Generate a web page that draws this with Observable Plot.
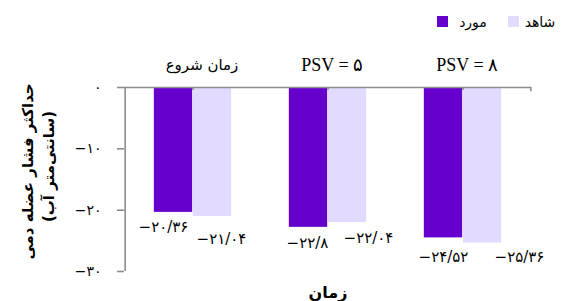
<!DOCTYPE html>
<html>
<head>
<meta charset="utf-8">
<script src="https://cdn.jsdelivr.net/npm/d3@7"></script>
<script src="https://cdn.jsdelivr.net/npm/@observablehq/plot@0.6"></script>
<style>
  html, body { margin: 0; padding: 0; background: #fff; }
  #chart svg { display: block; }
</style>
</head>
<body>
<div id="chart"></div>
<script>
// ---- data ----
const categories = ["زمان شروع", "PSV = ۵", "PSV = ۸"];
const seriesNames = ["مورد", "شاهد"];
const caseValues = [-20.36, -22.8, -24.52];
const controlValues = [-21.04, -22.04, -25.36];
const yTicks = [0, -10, -20, -30];
const yTitle = ["حداکثر فشار عضله دمی", "\u200F(سانتی‌متر آب)\u200F"];
const xTitle = "زمان";

// ---- style ----
const colors = ["#6600cc", "#e2dbff"];
const axisColor = "#8c8c8c";
const persianFont = "'DejaVu Sans', sans-serif";

const faDigits = "۰۱۲۳۴۵۶۷۸۹";
function toFa(v) {
  return String(v).replace(/[0-9]/g, d => faDigits[+d]).replace(".", "/").replace("-", "\u2212");
}

const rows = [];
categories.forEach((c, i) => {
  rows.push({cat: c, series: seriesNames[0], value: caseValues[i], idx: i});
  rows.push({cat: c, series: seriesNames[1], value: controlValues[i], idx: i});
});

const band = (562 - 124 - 31) / categories.length;
const half = band / 2;
const barW = 39;

// label offsets (style)
const catDx = [9, 4, 4];
const caseLabelOff = [[-10, 15], [-1, 16], [0, 19]];
const controlLabelOff = [[9, 23], [21, 16], [37, 14]];

const marks = [
  Plot.barY(rows.filter(d => d.series === seriesNames[0]), {
    x: "cat", y: "value", fill: colors[0],
    insetLeft: half - barW, insetRight: half
  }),
  Plot.barY(rows.filter(d => d.series === seriesNames[1]), {
    x: "cat", y: "value", fill: colors[1],
    insetLeft: half, insetRight: half - barW
  }),
  Plot.ruleY([0], {stroke: axisColor, strokeWidth: 1.6}),
  Plot.ruleX([categories[0]], {x: d => d, dx: -half, y1: 0, y2: -30, stroke: axisColor, strokeWidth: 1.6}),
  Plot.ruleX([categories[categories.length - 1]], {x: d => d, dx: half, y1: 0, y2: -0.7, stroke: axisColor, strokeWidth: 1.6}),
  Plot.ruleX(categories, {x: d => d, y1: 0, y2: -0.5, stroke: axisColor, strokeWidth: 1.6}),
  Plot.axisY({
    ticks: yTicks, tickSize: 7, tickPadding: 16, tickFormat: toFa, label: null,
    stroke: axisColor, strokeWidth: 1.6, fontSize: 14, fill: "#000"
  }),
  Plot.text(yTitle.slice(0, 1), {frameAnchor: "left", rotate: -90, dx: -96, dy: -8,
    textAnchor: "middle", lineAnchor: "middle",
    fontWeight: "bold", fontSize: 15, fill: "#000"}),
  Plot.text(yTitle.slice(1, 2), {frameAnchor: "left", rotate: -90, dx: -75, dy: -13,
    textAnchor: "middle", lineAnchor: "middle",
    fontWeight: "bold", fontSize: 15, fill: "#000"}),
  Plot.text([xTitle], {frameAnchor: "bottom", dy: 21, textAnchor: "middle", lineAnchor: "middle",
    fontWeight: "bold", fontSize: 16, fill: "#000"})
];

categories.forEach((c, i) => {
  marks.push(Plot.text([c], {
    x: d => d, frameAnchor: "top", dy: -22, dx: catDx[i], lineAnchor: "middle",
    fontSize: i === 0 ? 15 : 18,
    fontFamily: i === 0 ? persianFont : "'Liberation Serif', 'DejaVu Sans', serif",
    fill: "#000"
  }));
});

rows.forEach(r => {
  const off = r.series === seriesNames[0] ? caseLabelOff[r.idx] : controlLabelOff[r.idx];
  const barCenter = r.series === seriesNames[0] ? -barW / 2 : barW / 2;
  marks.push(Plot.text([r], {
    x: "cat", y: "value", text: d => toFa(d.value),
    dx: barCenter + off[0], dy: off[1], lineAnchor: "middle",
    fontSize: 15, fill: "#000"
  }));
});

const chart = Plot.plot({
  width: 562,
  height: 301,
  marginTop: 87,
  marginBottom: 30,
  marginLeft: 124,
  marginRight: 31,
  x: {domain: categories, padding: 0, axis: null},
  y: {domain: [-30, 0], axis: null},
  style: {fontFamily: persianFont, background: "#fff", color: "#000", overflow: "visible"},
  marks
});

// legend (drawn inside the SVG)
const svg = d3.select(chart);
const legendItems = [
  {name: seriesNames[0], color: colors[0], sx: 437, tx: 473},
  {name: seriesNames[1], color: colors[1], sx: 508, tx: 540}
];
const lg = svg.append("g").attr("font-family", persianFont).attr("font-size", 14);
legendItems.forEach(it => {
  lg.append("rect").attr("x", it.sx).attr("y", 16).attr("width", 11).attr("height", 11).attr("fill", it.color);
  lg.append("text").attr("x", it.tx).attr("y", 22).attr("dy", "0.35em")
    .attr("text-anchor", "middle").attr("fill", "#000").text(it.name);
});

document.getElementById("chart").appendChild(chart);
</script>
</body>
</html>
